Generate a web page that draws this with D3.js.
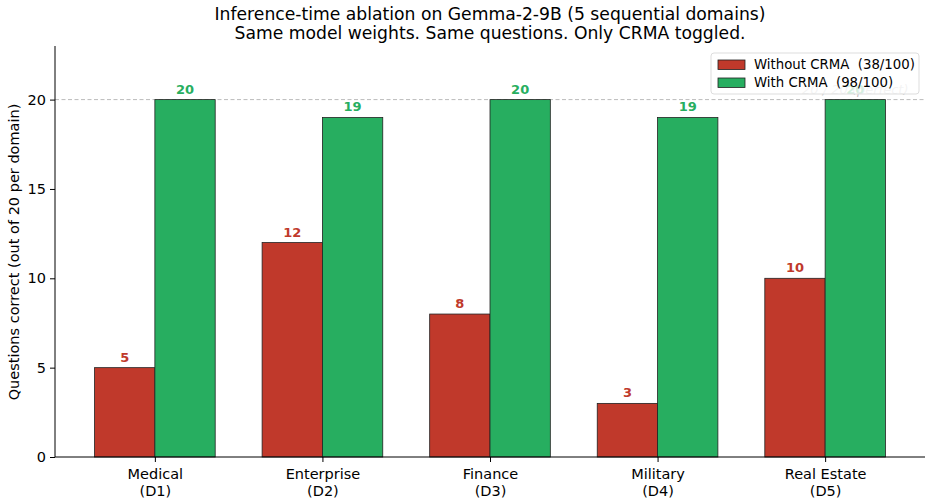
<!DOCTYPE html>
<html lang="en">
<head>
<meta charset="UTF-8">
<title>Inference-time ablation</title>
<style>
  body { margin: 0; background: #fff; }
  text { font-family: "DejaVu Sans", sans-serif; white-space: pre; }
</style>
</head>
<body>
<script src="https://d3js.org/d3.v7.min.js"></script>
<script>
// data
const domains = ["Medical", "Enterprise", "Finance", "Military", "Real Estate"];
const domainCodes = ["(D1)", "(D2)", "(D3)", "(D4)", "(D5)"];
const withoutCrma = [5, 12, 8, 3, 10];
const withCrma = [20, 19, 20, 19, 20];
const yTicks = [0, 5, 10, 15, 20];
const seriesNames = ["Without CRMA  (38/100)", "With CRMA  (98/100)"];

const red = "#c0392b", green = "#27ae60";
const W = 933, H = 504;
const margin = {top: 46, right: 8, bottom: 47, left: 55};
const iw = W - margin.left - margin.right;
const ih = H - margin.top - margin.bottom;
const barW = 0.36;

const svg = d3.select("body").append("svg")
  .attr("width", W).attr("height", H);

const x = d3.scaleLinear().domain([-0.596, 4.596]).range([margin.left, margin.left + iw]);
const y = d3.scaleLinear().domain([0, 23]).range([margin.top + ih, margin.top]);

// title
svg.append("text").attr("x", 490).attr("y", 20).attr("text-anchor", "middle")
  .attr("font-size", 17.2).text("Inference-time ablation on Gemma-2-9B (5 sequential domains)");
svg.append("text").attr("x", 490).attr("y", 39).attr("text-anchor", "middle")
  .attr("font-size", 17.2).text("Same model weights. Same questions. Only CRMA toggled.");

// reference line at 20
svg.append("line")
  .attr("x1", margin.left).attr("x2", margin.left + iw)
  .attr("y1", y(20)).attr("y2", y(20))
  .attr("stroke", "#bbb").attr("stroke-width", 1).attr("stroke-dasharray", "4,2.5");

// bars
const g = svg.append("g");
g.selectAll("rect.without").data(withoutCrma).join("rect")
  .attr("x", (d, i) => x(i - barW)).attr("width", x(barW) - x(0))
  .attr("y", d => y(d)).attr("height", d => y(0) - y(d))
  .attr("fill", red).attr("stroke", "#222").attr("stroke-width", 0.8);
g.selectAll("rect.with").data(withCrma).join("rect")
  .attr("class", "with")
  .attr("x", (d, i) => x(i)).attr("width", x(barW) - x(0))
  .attr("y", d => y(d)).attr("height", d => y(0) - y(d))
  .attr("fill", green).attr("stroke", "#222").attr("stroke-width", 0.8);

// value labels
g.selectAll("text.lw").data(withoutCrma).join("text")
  .attr("x", (d, i) => x(i - barW / 2)).attr("y", d => y(d) - 6)
  .attr("text-anchor", "middle").attr("font-size", 13).attr("font-weight", "bold")
  .attr("fill", red).text(d => d);
g.selectAll("text.lc").data(withCrma).join("text")
  .attr("x", (d, i) => x(i + barW / 2)).attr("y", d => y(d) - 6)
  .attr("text-anchor", "middle").attr("font-size", 13).attr("font-weight", "bold")
  .attr("fill", green).text(d => d);

// faint annotation (mostly hidden behind legend)
svg.append("text").attr("x", x(4 + barW / 2)).attr("y", y(20) - 6)
  .attr("text-anchor", "middle").attr("font-size", 13).attr("font-style", "italic")
  .attr("fill", "#999").attr("opacity", 0.6).text("20 / 20 (perfect)");

// axes
const yAxis = svg.append("g").attr("transform", `translate(${margin.left},0)`)
  .call(d3.axisLeft(y).tickValues(yTicks).tickSize(5).tickPadding(4));
yAxis.select(".domain").attr("d", `M0,${margin.top}V${margin.top + ih}`);
yAxis.selectAll("text").attr("font-size", 14.5).attr("font-family", "DejaVu Sans").attr("fill", "#000");

const xAxis = svg.append("g").attr("transform", `translate(0,${margin.top + ih})`)
  .call(d3.axisBottom(x).tickValues(d3.range(domains.length)).tickSize(5).tickFormat(""));
xAxis.select(".domain").attr("d", `M${margin.left},0H${margin.left + iw}`);
xAxis.selectAll(".tick").each(function(d) {
  const t = d3.select(this).append("text").attr("fill", "#000")
    .attr("font-size", 14.5).attr("font-family", "DejaVu Sans").attr("text-anchor", "middle");
  t.append("tspan").attr("x", 0).attr("y", 22).text(domains[d]);
  t.append("tspan").attr("x", 0).attr("y", 39).text(domainCodes[d]);
});

// y label
svg.append("text")
  .attr("transform", `translate(19,252) rotate(-90)`)
  .attr("text-anchor", "middle").attr("font-size", 14.5)
  .text("Questions correct (out of 20 per domain)");

// legend
const lg = svg.append("g").attr("transform", "translate(711,53)");
lg.append("rect").attr("width", 208).attr("height", 41).attr("rx", 3)
  .attr("fill", "#fff").attr("fill-opacity", 0.8).attr("stroke", "#ddd");
[red, green].forEach((c, i) => {
  lg.append("rect").attr("x", 7).attr("y", 7 + i * 18).attr("width", 27).attr("height", 9.5)
    .attr("fill", c).attr("stroke", "#222").attr("stroke-width", 0.8);
  lg.append("text").attr("x", 43).attr("y", 16 + i * 18).attr("font-size", 13.3)
    .text(seriesNames[i]);
});
</script>
</body>
</html>
